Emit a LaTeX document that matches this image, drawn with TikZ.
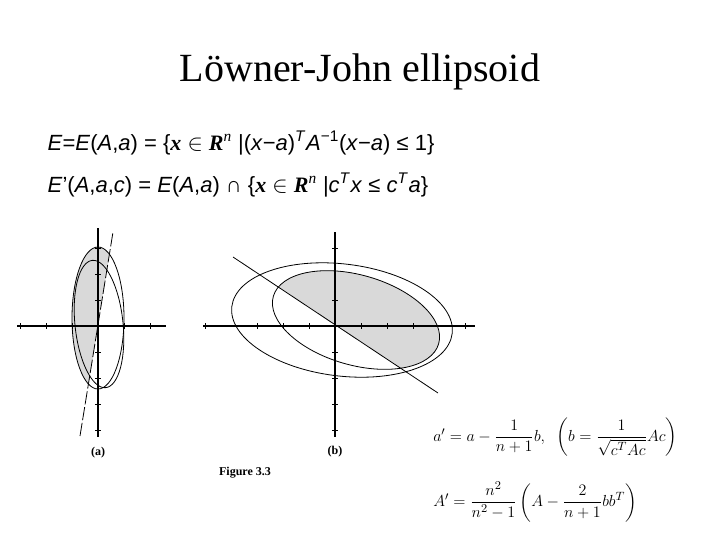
\documentclass[tikz,border=0pt]{standalone}
\usepackage{amsmath}
\usepackage{fontspec}
\setmainfont{Liberation Serif}
\setsansfont{Liberation Sans}
\begin{document}
\begin{tikzpicture}[x=0.75pt,y=-0.75pt,
  ax/.style={line width=0.8pt},
  el/.style={line width=0.6pt},
  shade/.style={fill=gray!30},
  tk/.style={line width=0.5pt}]
\useasboundingbox[fill=white] (0,0) rectangle (720,540);
\node[font=\fontsize{30}{34}\selectfont] (title) at (360,72) {Löwner-John ellipsoid};
\node[anchor=west,font=\sffamily\fontsize{16.5}{20}\selectfont] (l1) at (43,143)
 {\textit{E}=\textit{E}(\textit{A},\textit{a}) = \{{\rmfamily\bfseries\itshape x} $\in$ {\rmfamily\bfseries\itshape R}\textsuperscript{\rmfamily\itshape n} |(\textit{x}−\textit{a})\textsuperscript{\textit{T}}\textit{A}\textsuperscript{−1}(\textit{x}−\textit{a}) ≤ 1\}};
\node[anchor=west,font=\sffamily\fontsize{16.5}{20}\selectfont] (l2) at (43,185)
 {\textit{E}'(\textit{A},\textit{a},\textit{c}) = \textit{E}(\textit{A},\textit{a}) ∩ \{{\rmfamily\bfseries\itshape x} $\in$ {\rmfamily\bfseries\itshape R}\textsuperscript{\rmfamily\itshape n} |\textit{c}\textsuperscript{\textit{T}}\textit{x} ≤ \textit{c}\textsuperscript{\textit{T}}\textit{a}\}};
% ---- (a)
\begin{scope}
\clip (98,318) ellipse [x radius=26, y radius=71];
\fill[shade] (74,475) -- (119,195) -- (0,195) -- (0,475) -- cycle;
\end{scope}
\draw[ax] (17,326) -- (166,326);
\draw[ax] (98,228) -- (98,437);
\foreach \i in {-3,-2,-1,1,2} \draw[tk] (98+26*\i,323) -- (98+26*\i,329);
\foreach \i in {-3,-2,-1,1,2,3,4} \draw[tk] (95,326+26*\i) -- (101,326+26*\i);
\draw[el] (98,318) ellipse [x radius=26, y radius=71];
\draw[el,rotate around={6:(99,324)}] (99,324) ellipse [x radius=24, y radius=64];
\coordinate (a1) at (80,436); \coordinate (a2) at (113,232);
\draw[el,dash pattern=on 10pt off 2pt] (a1) -- (a2);
\node[font=\bfseries\fontsize{9}{10}\selectfont] (la) at (98,453) {(a)};
% ---- (b)
\begin{scope}
\clip[rotate around={-16:(356,320)}] (356,320) ellipse [x radius=86, y radius=45];
\fill[shade] (200,235) -- (480,421) -- (480,200) -- (200,200) -- cycle;
\end{scope}
\draw[ax] (203,326) -- (475,326);
\draw[ax] (335,232) -- (335,437);
\foreach \i in {-5,-3,-2,-1,1,2,3,5} \draw[tk] (335+26*\i,323) -- (335+26*\i,329);
\foreach \i in {-3,-1,1,2,3,4} \draw[tk] (332,326+26*\i) -- (338,326+26*\i);
\draw[el,rotate around={-7:(342,320)}] (342,320) ellipse [x radius=111, y radius=56];
\draw[el,rotate around={-16:(356,320)}] (356,320) ellipse [x radius=86, y radius=45];
\coordinate (b1) at (233,257); \coordinate (b2) at (438,393);
\draw[el] (b1) -- (b2);
\node[font=\bfseries\fontsize{9}{10}\selectfont] (lb) at (335,452) {(b)};
\node[font=\bfseries\fontsize{9}{10}\selectfont] (fig) at (245,473) {Figure 3.3};
% ---- formulas
\node[anchor=west,font=\fontsize{13}{16}\selectfont,inner sep=0pt] (f1) at (433,437)
 {$a'=a-\dfrac{1}{n+1}b,\ \ \left(b=\dfrac{1}{\sqrt{c^{T}Ac}}Ac\right)$};
\node[anchor=west,font=\fontsize{13}{16}\selectfont,inner sep=0pt] (f2) at (433,502)
 {$A'=\dfrac{n^2}{n^2-1}\left(A-\dfrac{2}{n+1}bb^{T}\right)$};
\end{tikzpicture}
\end{document}
